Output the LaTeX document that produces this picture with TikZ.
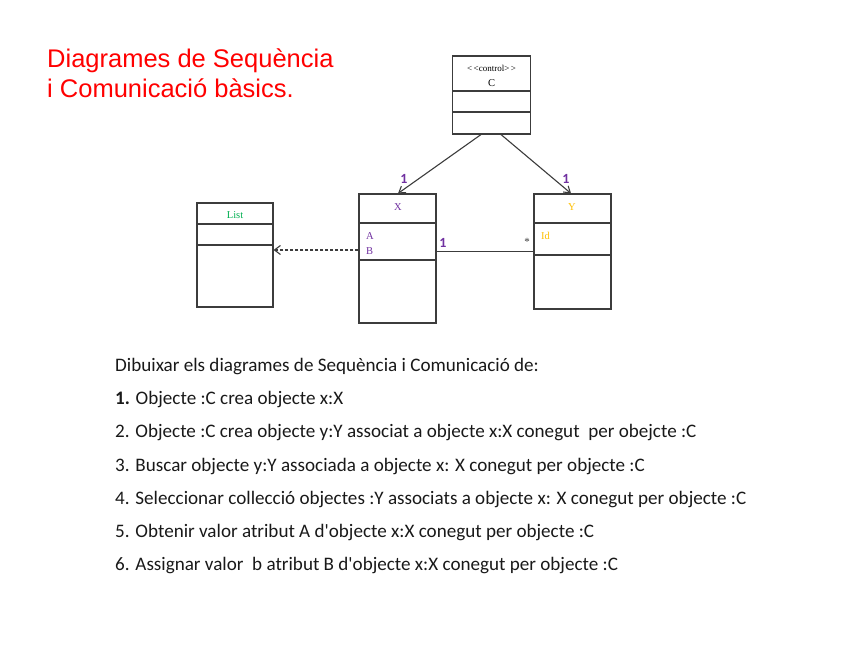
\documentclass[tikz,border=0pt]{standalone}
\usepackage{fontspec}
\setmainfont{Liberation Serif}
\newfontfamily\titlefont{Liberation Sans}
\newfontfamily\bodyfont{Carlito}
\usetikzlibrary{arrows.meta}
\definecolor{umlline}{RGB}{60,60,60}
\definecolor{umlpurple}{RGB}{112,48,160}
\definecolor{umlorange}{RGB}{255,192,0}
\definecolor{umlgreen}{RGB}{0,176,80}
\definecolor{titlered}{RGB}{255,0,0}
\tikzset{
  classbox/.style={draw=umlline, line width=1.1pt, fill=white, inner sep=0pt},
  divider/.style={draw=umlline, line width=1.1pt},
  conn/.style={draw=umlline, line width=1.1pt},
  navarrow/.style={conn, -{Straight Barb[length=6pt,width=8pt]}},
  deparrow/.style={conn, dashed, dash pattern=on 3pt off 2pt, -{Straight Barb[length=6pt,width=9pt]}},
  boxtext/.style={font=\fontsize{10.5}{12}\selectfont, inner sep=0pt},
  mult/.style={font=\fontsize{14}{16}\selectfont\bfseries\bodyfont, text=umlpurple, inner sep=0pt},
  bodyline/.style={anchor=base west, inner sep=0pt, font=\fontsize{19.1}{22}\selectfont\bodyfont, text=black!90},
}
\begin{document}
\begin{tikzpicture}[x=1pt,y=-1pt]
\useasboundingbox (0,0) rectangle (848,655);
% title
\node[anchor=base west, inner sep=0pt, text=titlered, font=\fontsize{25.5}{30}\selectfont\titlefont] (t1) at (47,68) {Diagrames de Sequència};
\node[anchor=base west, inner sep=0pt, text=titlered, font=\fontsize{25.5}{30}\selectfont\titlefont] (t2) at (47,98) {i Comunicació bàsics.};
% class C
\node[classbox, minimum width=78pt, minimum height=78pt] (C) at (491.5,95) {};
\draw[divider] (452.5,91) -- (530.5,91);
\draw[divider] (452.5,112) -- (530.5,112);
\node[boxtext, font=\fontsize{9}{10}\selectfont] (Cst) at (491.5,68) {{<}\,{<}control{>}\,{>}};
\node[boxtext] (Cname) at (491.5,83) {C};
% class List
\node[classbox, minimum width=76pt, minimum height=104pt] (L) at (235,255) {};
\draw[divider] (197,224) -- (273,224);
\draw[divider] (197,245) -- (273,245);
\node[boxtext, text=umlgreen] (Lname) at (235,215) {List};
% class X
\node[classbox, minimum width=77pt, minimum height=129pt] (X) at (397.5,258.5) {};
\draw[divider] (359,223) -- (436,223);
\draw[divider] (359,260) -- (436,260);
\node[boxtext, text=umlpurple] (Xname) at (398,207) {X};
\node[boxtext, text=umlpurple, anchor=west] (XA) at (366,236) {A};
\node[boxtext, text=umlpurple, anchor=west] (XB) at (366,251) {B};
% class Y
\node[classbox, minimum width=77pt, minimum height=115pt] (Y) at (572.5,251.5) {};
\draw[divider] (534,223) -- (611,223);
\draw[divider] (534,255) -- (611,255);
\node[boxtext, text=umlorange] (Yname) at (572,207) {Y};
\node[boxtext, text=umlorange, anchor=west] (YId) at (541,236) {Id};
% connectors
\draw[navarrow] ([xshift=-10.5pt]C.south) -- ([xshift=0.5pt]X.north);
\draw[navarrow] ([xshift=9.5pt]C.south) -- ([xshift=-1.5pt]Y.north);
\draw[deparrow] ([yshift=8.5pt]X.west) -- ([yshift=5pt]L.east);
\draw[conn] (X.east |- Y.west) -- (Y.west);
% multiplicities
\node[mult] (m1) at (404,179) {1};
\node[mult] (m2) at (566,179) {1};
\node[mult] (m3) at (443,243) {1};
\node[inner sep=0pt, font=\fontsize{11}{12}\selectfont, text=umlline] (m4) at (527,242) {*};
% body text
\node[bodyline] (l0) at (115,371) {Dibuixar els diagrames de Sequència i Comunicació de:};
\node[bodyline] (l1) at (115,404) {\textbf{1.} Objecte :C crea objecte x:X};
\node[bodyline] (l2) at (115,437) {2. Objecte :C crea objecte y:Y associat a objecte x:X conegut\ \ per obejcte :C};
\node[bodyline] (l3) at (115,471) {3. Buscar objecte y:Y associada a objecte x: X conegut per objecte :C};
\node[bodyline] (l4) at (115,504) {4. Seleccionar collecció objectes :Y associats a objecte x: X conegut per objecte :C};
\node[bodyline] (l5) at (115,537) {5. Obtenir valor atribut A d'objecte x:X conegut per objecte :C};
\node[bodyline] (l6) at (115,570) {6. Assignar valor\ \ b atribut B d'objecte x:X conegut per objecte :C};
\end{tikzpicture}
\end{document}
